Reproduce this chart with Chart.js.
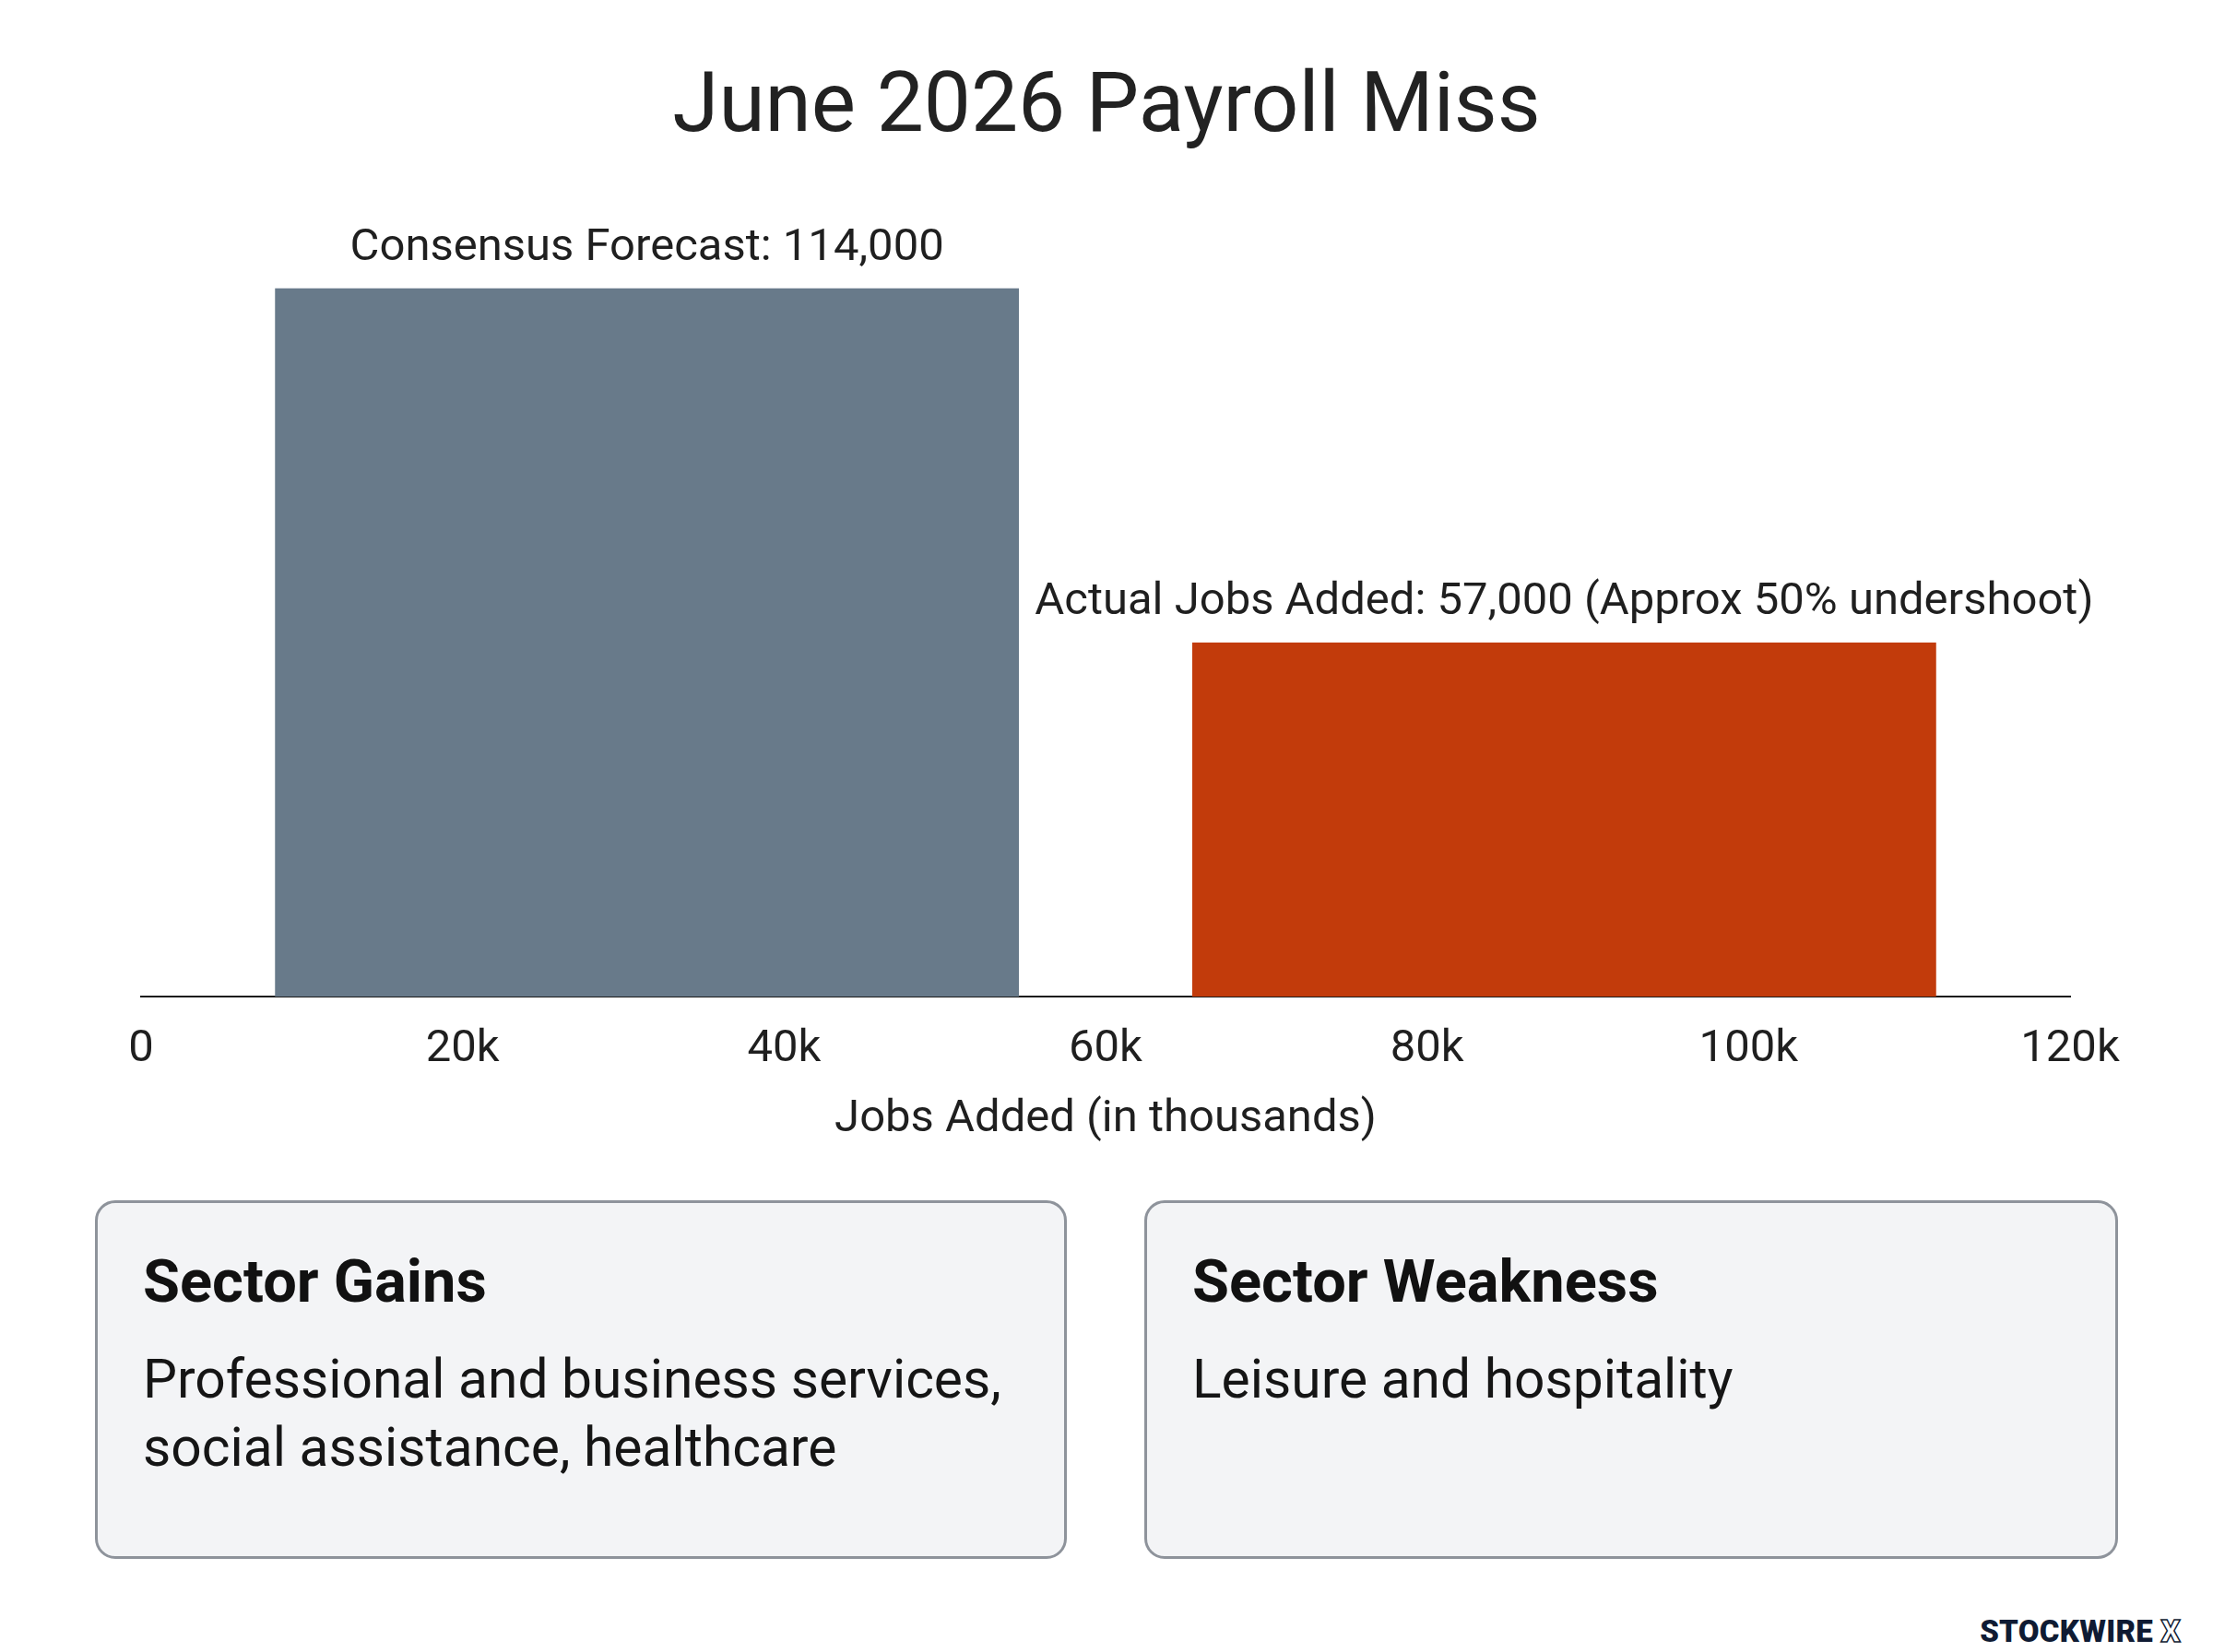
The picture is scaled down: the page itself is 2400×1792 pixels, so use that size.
<!DOCTYPE html>
<html>
<head>
<meta charset="utf-8">
<script src="https://cdn.jsdelivr.net/npm/chart.js@4.4.1/dist/chart.umd.min.js"></script>
<style>
  html, body { margin: 0; padding: 0; background: #ffffff; }
  body { width: 2400px; height: 1792px; position: relative; overflow: hidden;
         font-family: Roboto, "Noto Sans", sans-serif; color: #1f1f1f; }
  #title { position: absolute; left: 0; top: 66px; width: 2400px; text-align: center;
           font-size: 91px; line-height: 91px; font-weight: 400; color: #222222; }
  #chartBox { position: absolute; left: 0; top: 0; width: 2400px; height: 1260px; }
  .card { position: absolute; top: 1302px; height: 389px; box-sizing: border-box;
          border: 3px solid #8e939b; border-radius: 22px; background: #f3f4f6; }
  .card h2 { position: absolute; margin: 0; left: 49px; top: 53px; font-size: 65px;
             line-height: 65px; font-weight: 700; color: #111111; white-space: nowrap; }
  .card p { position: absolute; margin: 0; left: 49px; top: 154px; font-size: 58.7px;
            line-height: 74px; font-weight: 400; color: #151515; white-space: nowrap; }
  #brand { position: absolute; right: 35px; top: 1753px; font-family: Roboto, sans-serif;
           font-weight: 900; font-size: 33px; line-height: 33px; color: #0f1b33; letter-spacing: 0.3px; }
  #brand span { color: transparent; -webkit-text-stroke: 1.5px #0f1b33; }
</style>
</head>
<body>
<div id="chartBox"><canvas id="chart"></canvas></div>
<div id="title">June 2026 Payroll Miss</div>
<div class="card" style="left:103px;width:1054px;">
  <h2>Sector Gains</h2>
  <p>Professional and business services,<br>social assistance, healthcare</p>
</div>
<div class="card" style="left:1241px;width:1056px;">
  <h2>Sector Weakness</h2>
  <p>Leisure and hospitality</p>
</div>
<div id="brand">STOCKWIRE <span>X</span></div>
<script>
// ---- data ----
const categories = ['June 2026'];
const seriesNames = ['Consensus Forecast', 'Actual Jobs Added'];
const consensusValues = [114000];
const actualValues = [57000];
const barLabels = ['Consensus Forecast: 114,000', 'Actual Jobs Added: 57,000 (Approx 50% undershoot)'];
const xTickValues = [0, 20000, 40000, 60000, 80000, 100000, 120000];
const xTickLabels = ['0', '20k', '40k', '60k', '80k', '100k', '120k'];
const xAxisTitle = 'Jobs Added (in thousands)';

const textColor = '#1f1f1f';

const barLabelPlugin = {
  id: 'barLabels',
  afterDatasetsDraw(chart) {
    const ctx = chart.ctx;
    ctx.save();
    ctx.font = '400 49px Roboto';
    ctx.fillStyle = textColor;
    ctx.textAlign = 'center';
    ctx.textBaseline = 'middle';
    chart.data.datasets.forEach((ds, i) => {
      const meta = chart.getDatasetMeta(i);
      meta.data.forEach(el => {
        ctx.fillText(barLabels[i], el.x, el.y - 43);
      });
    });
    ctx.restore();
  }
};

new Chart(document.getElementById('chart'), {
  type: 'bar',
  data: {
    labels: categories,
    datasets: [
      { label: seriesNames[0], data: consensusValues, backgroundColor: '#687a8a', borderWidth: 0 },
      { label: seriesNames[1], data: actualValues, backgroundColor: '#c23b0b', borderWidth: 0 }
    ]
  },
  options: {
    responsive: true,
    maintainAspectRatio: false,
    devicePixelRatio: 1,
    animation: false,
    categoryPercentage: 0.951,
    barPercentage: 0.811,
    layout: { padding: { left: 153, right: 155, top: 205, bottom: 21 } },
    plugins: { legend: { display: false }, tooltip: { enabled: false }, title: { display: false } },
    scales: {
      x: { type: 'category', display: false, offset: true, grid: { display: false } },
      x2: {
        type: 'linear', axis: 'x', position: 'bottom', min: 0, max: 120000, offset: false,
        grid: { display: false, drawTicks: false, offset: false },
        border: { display: true, color: '#1a1a1a', width: 2 },
        afterBuildTicks: (scale) => { scale.ticks = xTickValues.map(v => ({ value: v })); },
        ticks: {
          padding: 33, autoSkip: false, maxRotation: 0,
          font: { family: 'Roboto', size: 49, lineHeight: 1 }, color: textColor,
          callback: (value, index) => xTickLabels[index]
        },
        title: { display: true, text: xAxisTitle, color: textColor,
                 font: { family: 'Roboto', size: 49, lineHeight: 1 }, padding: { top: -6, bottom: 0 } }
      },
      y: { display: false, min: 0, max: 130000, grid: { display: false } }
    }
  },
  plugins: [barLabelPlugin]
});
</script>
</body>
</html>
